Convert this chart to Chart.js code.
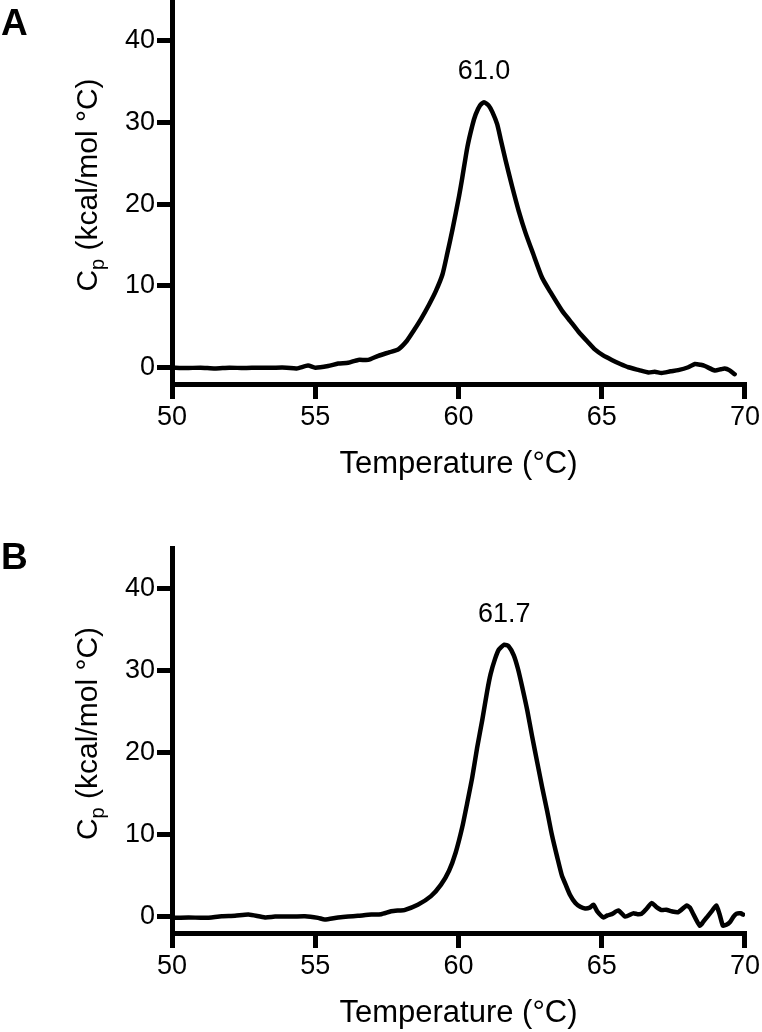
<!DOCTYPE html>
<html>
<head>
<meta charset="utf-8">
<script src="https://cdn.jsdelivr.net/npm/chart.js@4"></script>
<style>
  html, body { margin: 0; padding: 0; background: #fff; }
  #wrap { position: relative; width: 762px; height: 1032px; overflow: hidden; }
  canvas { position: absolute; left: 0; }
  #chartA { top: -20px; }
  #chartB { top: 490px; }
</style>
</head>
<body>
<div id="wrap">
  <canvas id="chartA" width="762" height="510"></canvas>
  <canvas id="chartB" width="762" height="542"></canvas>
</div>
<script>
// panel A
const tempsA = [50.0, 50.5, 51.0, 51.5, 52.0, 52.5, 53.0, 53.5, 54.0, 54.35, 54.75, 55.0, 55.45, 55.8, 56.15, 56.5, 56.85,
  57.2, 57.6, 57.9, 58.2, 58.45, 58.7, 58.97, 59.2, 59.44, 59.61, 59.79, 60.02, 60.13, 60.31, 60.48, 60.6, 60.75,
  60.89, 61.05, 61.18, 61.35, 61.47, 61.65, 61.87, 62.1, 62.34, 62.6, 62.92, 63.2, 63.61, 63.9, 64.19, 64.5, 64.77,
  65.05, 65.35, 65.65, 65.93, 66.3, 66.63, 66.85, 67.09, 67.4, 67.67, 68.02, 68.25, 68.45, 68.6, 68.95, 69.15, 69.29,
  69.45, 69.64];
const cpA = [0.0, -0.05, 0.0, -0.1, 0.0, -0.05, 0.0, 0.0, 0.0, -0.1, 0.25, 0.0, 0.2, 0.5, 0.6, 0.95, 0.95,
  1.45, 1.9, 2.25, 3.3, 4.6, 6.0, 7.7, 9.3, 11.4, 14.0, 16.9, 21.0, 23.2, 27.0, 29.6, 31.0, 32.1,
  32.5, 32.1, 31.3, 29.8, 28.0, 25.3, 22.2, 19.2, 16.5, 14.0, 11.0, 9.3, 7.0, 5.7, 4.4, 3.2, 2.2,
  1.5, 0.95, 0.45, 0.05, -0.3, -0.6, -0.5, -0.65, -0.45, -0.3, 0.05, 0.45, 0.35, 0.2, -0.35, -0.2, -0.1,
  -0.3, -0.8];

// panel B
const tempsB = [50.0, 50.58, 51.16, 51.74, 52.2, 52.67, 53.25, 53.6, 54.06, 54.64, 55.1, 55.33, 55.8, 56.15, 56.49,
  56.96, 57.3, 57.65, 57.93, 58.11, 58.58, 59.04, 59.39, 59.67, 59.9, 60.13, 60.3, 60.48, 60.65, 60.83, 61.0,
  61.12, 61.27, 61.41, 61.6, 61.75, 61.93, 62.08, 62.22, 62.4, 62.57, 62.75, 62.92, 63.1, 63.26, 63.45, 63.61,
  63.73, 63.9, 64.08, 64.25, 64.42, 64.58, 64.71, 64.85, 65.06, 65.2, 65.35, 65.58, 65.82, 66.1, 66.25, 66.39,
  66.55, 66.74, 66.9, 67.09, 67.25, 67.44, 67.67, 67.96, 68.08, 68.19, 68.42, 68.55, 68.71, 68.85, 69.0, 69.12,
  69.23, 69.35, 69.47, 69.6, 69.7, 69.85, 69.93];
const cpB = [-0.15, -0.1, -0.15, 0.05, 0.1, 0.25, -0.1, 0.0, 0.0, 0.05, -0.15, -0.35, -0.1, 0.0, 0.1,
  0.25, 0.3, 0.65, 0.75, 0.8, 1.45, 2.5, 3.9, 5.6, 7.8, 10.9, 13.8, 17.0, 20.6, 24.0, 27.5,
  29.6, 31.4, 32.6, 33.2, 33.0, 31.9, 30.2, 28.1, 25.2, 22.0, 18.8, 15.8, 12.8, 10.0, 7.2, 5.0,
  4.0, 2.6, 1.65, 1.2, 1.0, 1.1, 1.45, 0.6, -0.1, 0.15, 0.3, 0.75, 0.0, 0.4, 0.3, 0.35,
  0.9, 1.65, 1.2, 0.8, 0.85, 0.65, 0.55, 1.35, 1.1, 0.35, -1.1, -0.6, 0.1, 0.7, 1.35, 0.2,
  -1.1, -1.0, -0.7, 0.0, 0.35, 0.4, 0.25];

const xTicks = [50, 55, 60, 65, 70];
const yTicks = [0, 10, 20, 30, 40];
const peakLabels = ['61.0', '61.7'];
const panelLetters = ['A', 'B'];

const FONT = '"Liberation Sans", Arial, Helvetica, sans-serif';

// y title with subscript p, peak value above the maximum, panel letter
const extrasPlugin = {
  id: 'extras',
  afterDraw(chart, args, opts) {
    const ctx = chart.ctx;
    const area = chart.chartArea;

    // y axis title
    ctx.save();
    ctx.fillStyle = '#000';
    ctx.textBaseline = 'alphabetic';
    ctx.textAlign = 'left';
    const big = '30px ' + FONT, small = '20px ' + FONT;
    ctx.font = big;
    const wC = ctx.measureText('C').width;
    const rest = ' (kcal/mol \u00B0C)';
    const wRest = ctx.measureText(rest).width;
    ctx.font = small;
    const wP = ctx.measureText('p').width;
    const total = wC + wP + wRest;
    ctx.translate(97, (area.top + area.bottom) / 2 - 7);
    ctx.rotate(-Math.PI / 2);
    let x0 = -total / 2;
    ctx.font = big;
    ctx.fillText('C', x0, 0);
    ctx.font = small;
    ctx.fillText('p', x0 + wC, 7);
    ctx.font = big;
    ctx.fillText(rest, x0 + wC + wP, 0);
    ctx.restore();

    // peak label
    const ds = chart.data.datasets[0].data;
    let best = 0;
    ds.forEach((p, i) => { if (p.y > ds[best].y) best = i; });
    const px = chart.scales.x.getPixelForValue(ds[best].x);
    const py = chart.scales.y.getPixelForValue(ds[best].y);
    ctx.save();
    ctx.fillStyle = '#000';
    ctx.font = '27px ' + FONT;
    ctx.textAlign = 'center';
    ctx.textBaseline = 'alphabetic';
    ctx.fillText(opts.peak, px, py - 23);

    // panel letter
    ctx.font = 'bold 37px ' + FONT;
    ctx.textAlign = 'left';
    ctx.fillText(opts.letter, opts.letterX, opts.letterY);
    ctx.restore();
  }
};

function makeChart(id, temps, cp, peak, letter, padTop, padBottom, letterY) {
  const points = temps.map((t, i) => ({ x: t, y: cp[i] }));
  const tickGrid = {
    display: true,
    drawOnChartArea: false,
    drawTicks: true,
    tickLength: 15,
    lineWidth: 5,
    color: '#000'
  };
  return new Chart(document.getElementById(id), {
    type: 'line',
    data: {
      datasets: [{
        data: points,
        borderColor: '#000',
        borderWidth: 4.5,
        pointRadius: 0,
        tension: 0.2,
        fill: false,
        borderJoinStyle: 'round',
        borderCapStyle: 'round'
      }]
    },
    options: {
      responsive: false,
      animation: false,
      devicePixelRatio: 1,
      layout: { padding: { top: padTop, bottom: padBottom, left: 0, right: 15 } },
      plugins: {
        legend: { display: false },
        tooltip: { enabled: false },
        extras: { peak: peak, letter: letter, letterX: 1, letterY: letterY }
      },
      scales: {
        x: {
          type: 'linear',
          min: 50,
          max: 70,
          afterBuildTicks: axis => { axis.ticks = xTicks.map(v => ({ value: v })); },
          afterFit: axis => { axis.height = 99; },
          grid: tickGrid,
          border: { display: true, width: 5, color: '#000' },
          ticks: { color: '#000', padding: 2, maxRotation: 0, autoSkip: false, font: { family: FONT, size: 27 } },
          title: { display: true, text: 'Temperature (\u00B0C)', color: '#000', padding: 0, font: { family: FONT, size: 31 } }
        },
        y: {
          type: 'linear',
          min: -2,
          max: 45,
          afterBuildTicks: axis => { axis.ticks = yTicks.map(v => ({ value: v })); },
          afterFit: axis => { axis.width = 172; },
          grid: tickGrid,
          border: { display: true, width: 5, color: '#000' },
          ticks: { color: '#000', padding: 2, font: { family: FONT, size: 27 } }
        }
      }
    },
    plugins: [extrasPlugin]
  });
}

makeChart('chartA', tempsA, cpA, peakLabels[0], panelLetters[0], 20, 7, 55);
makeChart('chartB', tempsB, cpB, peakLabels[1], panelLetters[1], 58, 0, 79);
</script>
</body>
</html>
